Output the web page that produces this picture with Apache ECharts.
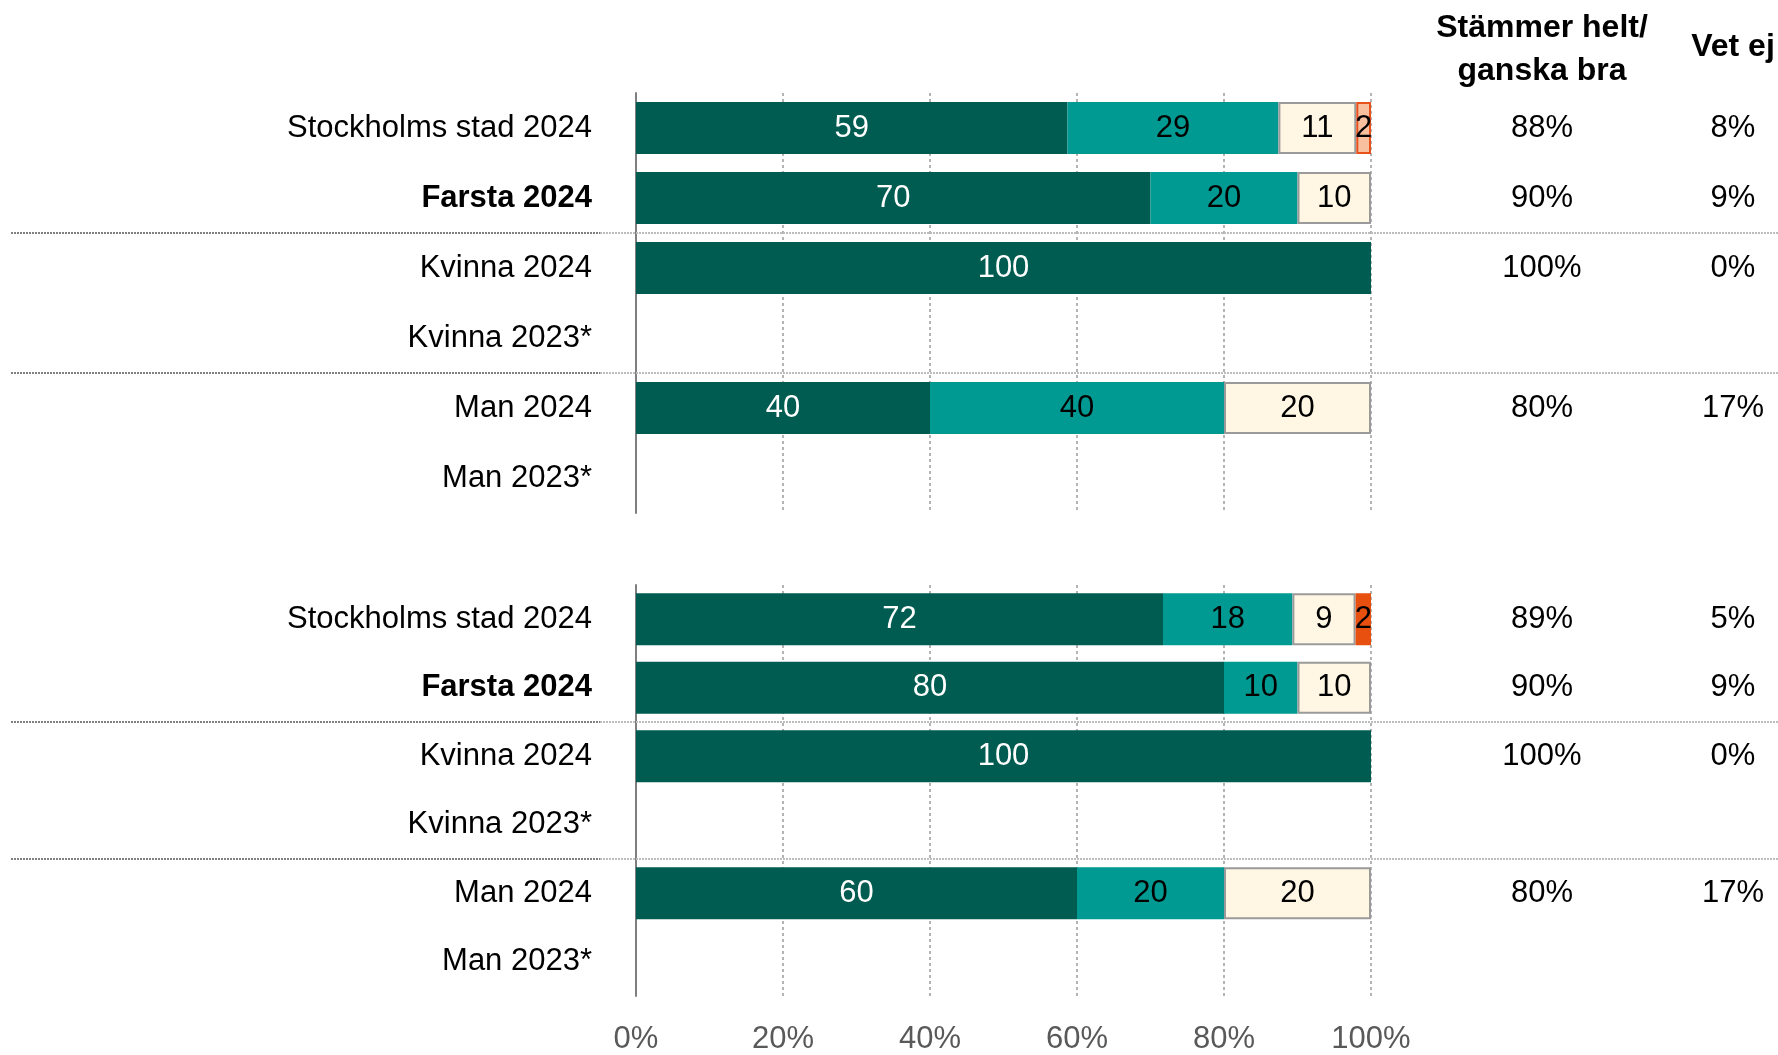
<!DOCTYPE html>
<html><head><meta charset="utf-8">
<script src="https://cdn.jsdelivr.net/npm/echarts@6/dist/echarts.min.js"></script>
<style>html,body{margin:0;padding:0;background:#fff}#c{width:1778px;height:1055px}</style>
</head><body><div id="c"></div>
<script>
// ---- data ----
const categories = ['Stockholms stad 2024','Farsta 2024','Kvinna 2024','Kvinna 2023*','Man 2024','Man 2023*'];
const boldCategories = ['Farsta 2024'];
const xTicks = [0,20,40,60,80,100];

// group 1
const g1Helt    = [58.7, 70, 100, null, 40, null];
const g1Bra     = [28.7, 20, null, null, 40, null];
const g1Daligt  = [10.6, 10, null, null, 20, null];
const g1Peach   = [2.0, null, null, null, null, null];
const g1Orange  = [null, null, null, null, null, null];
const g1Sum     = ['88%','90%','100%','','80%',''];
const g1VetEj   = ['8%','9%','0%','','17%',''];

// group 2
const g2Helt    = [71.7, 80, 100, null, 60, null];
const g2Bra     = [17.6, 10, null, null, 20, null];
const g2Daligt  = [8.6, 10, null, null, 20, null];
const g2Peach   = [null, null, null, null, null, null];
const g2Orange  = [2.1, null, null, null, null, null];
const g2Sum     = ['89%','90%','100%','','80%',''];
const g2VetEj   = ['5%','9%','0%','','17%',''];

const headerSum = 'Stämmer helt/\nganska bra';
const headerVetEj = 'Vet ej';

// ---- styles ----
const FONT = 'Liberation Sans, Arial, sans-serif';
const FS = 31;
const segStyles = [
  {color:'#005C50', border:null, text:'#ffffff'},
  {color:'#009A92', border:null, text:'#000000'},
  {color:'#FFF6E3', border:'#9a9a9a', text:'#000000'},
  {color:'#F9C0A0', border:'#E8501A', text:'#000000'},
  {color:'#E8500F', border:null, text:'#000000'}
];
const groups = [
  {values:[g1Helt,g1Bra,g1Daligt,g1Peach,g1Orange], sum:g1Sum, vet:g1VetEj},
  {values:[g2Helt,g2Bra,g2Daligt,g2Peach,g2Orange], sum:g2Sum, vet:g2VetEj}
];
const gridTops = [93, 585];
const gridH = 420;
const gridLeft = 636, gridWidth = 735;

const grids = [], xAxes = [], yAxes = [], series = [];
groups.forEach((g, gi) => {
  grids.push({left:gridLeft, width:gridWidth, top:gridTops[gi], height:gridH, containLabel:false});
  xAxes.push({
    type:'value', gridIndex:gi, min:0, max:100, interval:20,
    axisLine:{show:false}, axisTick:{show:false},
    axisLabel:{show: gi===1, formatter: v => xTicks.includes(v) ? v + '%' : '', color:'#595959', fontSize:FS, fontFamily:FONT, margin:28},
    splitLine:{show:true, lineStyle:{color:'#b4b4b4', width:2, type:[3,3]}}
  });
  yAxes.push({
    type:'category', gridIndex:gi, data:categories, inverse:true,
    axisLine:{show:true, onZero:false, lineStyle:{color:'#7f7f7f', width:2}},
    axisTick:{show:false},
    axisLabel:{color:'#000', fontSize:FS, fontFamily:FONT, margin:44,
      formatter: v => boldCategories.includes(v) ? '{b|' + v + '}' : v,
      rich:{b:{fontWeight:'bold', fontSize:FS, fontFamily:FONT, color:'#000'}}},
    splitLine:{show:false}
  });
  [[g.sum, 171],[g.vet, 362]].forEach(([arr, m]) => {
    yAxes.push({
      type:'category', gridIndex:gi, data:arr, inverse:true, position:'right',
      axisLine:{show:false}, axisTick:{show:false}, splitLine:{show:false},
      axisLabel:{color:'#000', fontSize:FS, fontFamily:FONT, margin:m, align:'center'}
    });
  });
  const yIdx = gi*3;
  g.values.forEach((vals, si) => {
    const st = segStyles[si];
    series.push({
      type:'bar', stack:'s'+gi, xAxisIndex:gi, yAxisIndex:yIdx, data:vals,
      barWidth:52, animation:false,
      itemStyle:{color:st.color, borderColor:st.border || st.color, borderWidth: st.border ? 2 : 0},
      label:{show:true, position:'inside', color:st.text, fontSize:FS, fontFamily:FONT,
        formatter: p => p.value == null ? '' : String(Math.round(p.value))},
      emphasis:{disabled:true}
    });
  });
});

const chart = echarts.init(document.getElementById('c'), null, {renderer:'canvas'});
chart.setOption({
  animation:false,
  grid:grids, xAxis:xAxes, yAxis:yAxes, series:series
});

const extra = [
  {type:'text', x:1542, y:7, style:{text:headerSum, fontSize:32, fontWeight:'bold', fontFamily:FONT, fill:'#000', textAlign:'center', lineHeight:43}},
  {type:'text', x:1733, y:31, style:{text:headerVetEj, fontSize:32, fontWeight:'bold', fontFamily:FONT, fill:'#000', textAlign:'center'}}
];
// separator lines between row groups (after Farsta and after Kvinna 2023*)
const sepAfter = ['Farsta 2024','Kvinna 2023*'];
[0,1].forEach(gi => {
  sepAfter.forEach(cat => {
    const i = categories.indexOf(cat);
    const a = chart.convertToPixel({yAxisIndex:gi*3}, categories[i]);
    const b = chart.convertToPixel({yAxisIndex:gi*3}, categories[i+1]);
    const y = Math.round((a+b)/2);
    extra.push({type:'line', shape:{x1:11, y1:y, x2:600, y2:y}, style:{stroke:'#808080', lineWidth:2, lineDash:[2,1]}, z:10});
    extra.push({type:'line', shape:{x1:600, y1:y, x2:1778, y2:y}, style:{stroke:'#bdbdbd', lineWidth:2, lineDash:[2,1]}, z:10});
  });
});
chart.setOption({graphic: extra});
</script></body></html>
